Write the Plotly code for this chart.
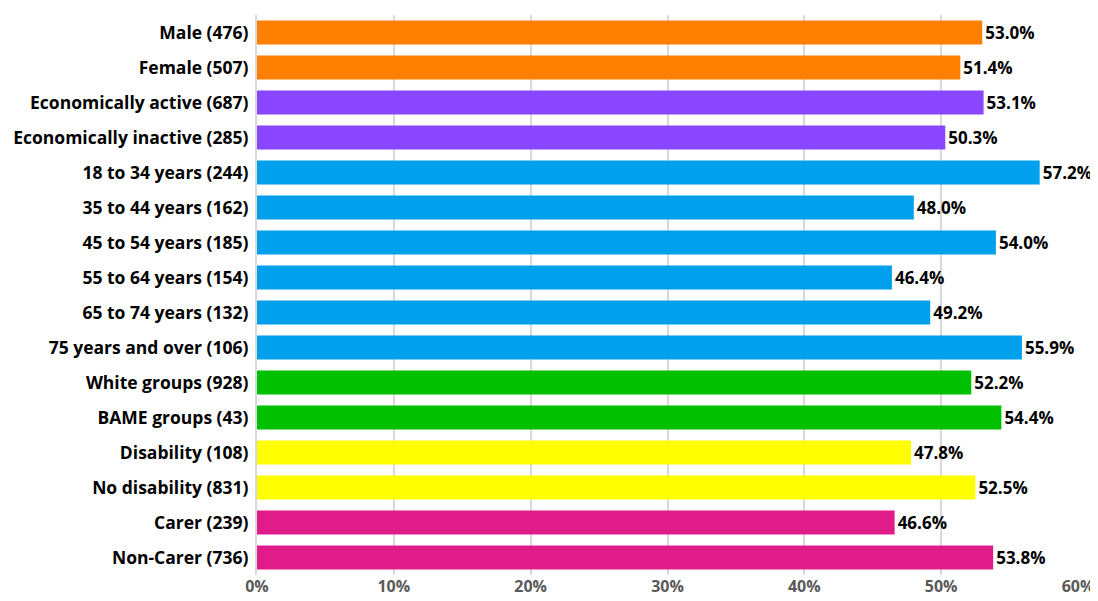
import plotly.graph_objects as go

categories = [
    "Male (476)", "Female (507)", "Economically active (687)", "Economically inactive (285)",
    "18 to 34 years (244)", "35 to 44 years (162)", "45 to 54 years (185)", "55 to 64 years (154)",
    "65 to 74 years (132)", "75 years and over (106)", "White groups (928)", "BAME groups (43)",
    "Disability (108)", "No disability (831)", "Carer (239)", "Non-Carer (736)",
]
values = [53.0, 51.4, 53.1, 50.3, 57.2, 48.0, 54.0, 46.4, 49.2, 55.9, 52.2, 54.4, 47.8, 52.5, 46.6, 53.8]
groups = ["sex", "sex", "econ", "econ", "age", "age", "age", "age", "age", "age",
          "eth", "eth", "dis", "dis", "carer", "carer"]
group_colors = {"sex": "#FF7F00", "econ": "#8A46FF", "age": "#00A0EC", "eth": "#00C000",
                "dis": "#FFFF00", "carer": "#E11C8A"}

FONT = "Open Sans"

fig = go.Figure(go.Bar(
    x=values, y=categories, orientation="h",
    marker=dict(color=[group_colors[g] for g in groups], line=dict(width=0)),
    text=[f"{v:.1f}%" for v in values], textposition="outside", cliponaxis=False,
    textfont=dict(family=FONT, size=17, color="#000000", weight="bold"),
))

# page body has an 8px margin, so the figure is sized/offset to compensate
fig.update_layout(
    width=1090, height=593, plot_bgcolor="white", paper_bgcolor="white",
    margin=dict(l=249, r=20, t=7, b=26),
    bargap=0.31, showlegend=False,
    font=dict(family=FONT, size=17, color="#000000"),
)
fig.update_xaxes(range=[0, 60], dtick=10, ticksuffix="%", showgrid=True, gridcolor="#D9D9D9",
                 gridwidth=1.5, zeroline=False, showline=False, automargin=False,
                 tickfont=dict(family=FONT, size=16, color="#595959", weight="bold"))
fig.update_yaxes(autorange="reversed", showline=True, linecolor="#D9D9D9", linewidth=2,
                 ticks="", ticklabelstandoff=3, automargin=False,
                 tickfont=dict(family=FONT, size=17.5, color="#000000", weight="bold"))

fig.write_html("out.html")
